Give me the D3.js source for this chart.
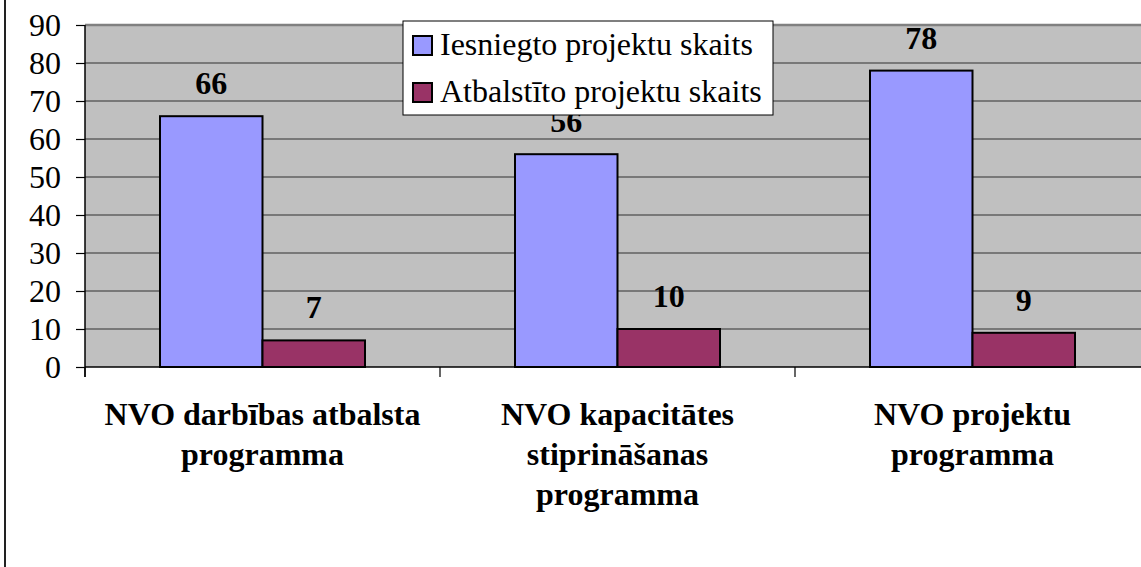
<!DOCTYPE html>
<html>
<head>
<meta charset="utf-8">
<script src="https://cdn.jsdelivr.net/npm/d3@7"></script>
<style>
  body { margin: 0; background: #fff; }
  #chart text { font-family: "Liberation Serif", Tinos, "Times New Roman", Times, serif !important; }
</style>
</head>
<body>
<svg id="chart" width="1141" height="567" font-family="Liberation Serif"></svg>
<script>
let categories = [
  ['NVO darbības atbalsta', 'programma'],
  ['NVO kapacitātes', 'stiprināšanas', 'programma'],
  ['NVO projektu', 'programma']
]
let seriesNames = ['Iesniegto projektu skaits', 'Atbalstīto projektu skaits']
let submitted = [66, 56, 78]
let supported = [7, 10, 9]
let yTicks = [0, 10, 20, 30, 40, 50, 60, 70, 80, 90]
let colors = ['#9999ff', '#993366']

let svg = d3.select('#chart')
let fontSize = 32

let plotLeft = 85, plotRight = 1150, plotTop = 25, plotBottom = 367

let catKeys = categories.map((c, i) => i)
let x = d3.scaleBand().domain(catKeys).range([plotLeft, plotRight])
let xInner = d3.scaleBand().domain([0, 1]).range([75, 280])
let y = d3.scaleLinear().domain([0, 90]).range([plotBottom, plotTop])

// outer frame edge on the left
svg.append('line')
  .attr('x1', 5).attr('x2', 5).attr('y1', 0).attr('y2', 567)
  .attr('stroke', '#222').attr('stroke-width', 2)

// plot background
svg.append('rect')
  .attr('x', plotLeft).attr('y', plotTop)
  .attr('width', plotRight - plotLeft).attr('height', plotBottom - plotTop)
  .attr('fill', '#c0c0c0')

// gridlines
svg.selectAll('.grid')
  .data(yTicks.filter(t => t > 0))
  .enter()
  .append('line')
  .attr('x1', plotLeft).attr('x2', plotRight)
  .attr('y1', d => y(d)).attr('y2', d => y(d))
  .attr('stroke', d => d == 90 ? '#808080' : '#606060')
  .attr('stroke-width', d => d == 90 ? 2.5 : 1.5)

// y axis
let yAxis = svg.append('g')
  .attr('transform', `translate(${plotLeft},0)`)
  .call(d3.axisLeft(y).tickValues(yTicks).tickSize(9).tickPadding(15))
yAxis.attr('font-family', null)
yAxis.select('.domain').attr('stroke', '#000').attr('stroke-width', 1.5)
  .attr('d', `M0,${plotTop}V${plotBottom + 10}`)
yAxis.selectAll('.tick line').attr('stroke', '#000').attr('stroke-width', 1.2)
yAxis.selectAll('.tick text')
  .attr('font-size', fontSize)
  .attr('dy', '0.34em')
  .attr('fill', '#000')

// bars
let data = []
catKeys.forEach(i => {
  data.push({ cat: i, s: 0, value: submitted[i] })
  data.push({ cat: i, s: 1, value: supported[i] })
})

svg.selectAll('.bar')
  .data(data)
  .enter()
  .append('rect')
  .attr('class', 'bar')
  .attr('x', d => x(d.cat) + xInner(d.s))
  .attr('y', d => y(d.value))
  .attr('width', xInner.bandwidth())
  .attr('height', d => y(0) - y(d.value))
  .attr('fill', d => colors[d.s])
  .attr('stroke', '#000')
  .attr('stroke-width', 2)

// value labels
svg.selectAll('.val')
  .data(data)
  .enter()
  .append('text')
  .attr('class', 'val')
  .attr('x', d => x(d.cat) + xInner(d.s) + xInner.bandwidth() / 2)
  .attr('y', d => y(d.value) - 22)
  .attr('text-anchor', 'middle')
  .attr('font-size', fontSize)
  .attr('font-weight', 'bold')
  .text(d => d.value)

// x axis
let xAxis = svg.append('g')
  .attr('transform', `translate(0,${plotBottom})`)
  .call(d3.axisBottom(x).tickSize(0).tickFormat(''))
xAxis.select('.domain').attr('stroke', '#000').attr('stroke-width', 1.5)
  .attr('d', `M${plotLeft},0H${plotRight}`)
svg.selectAll('.catTick')
  .data(catKeys.concat([3]))
  .enter()
  .append('line')
  .attr('x1', d => plotLeft + d * x.bandwidth())
  .attr('x2', d => plotLeft + d * x.bandwidth())
  .attr('y1', plotBottom).attr('y2', plotBottom + 10)
  .attr('stroke', '#000').attr('stroke-width', 1.2)

// category labels
let catLabel = svg.selectAll('.cat')
  .data(categories)
  .enter()
  .append('text')
  .attr('class', 'cat')
  .attr('text-anchor', 'middle')
  .attr('font-size', fontSize)
  .attr('font-weight', 'bold')
catLabel.selectAll('tspan')
  .data((c, i) => c.map(line => ({ line: line, i: i })))
  .enter()
  .append('tspan')
  .attr('x', d => x(d.i) + x.bandwidth() / 2)
  .attr('y', (d, j) => 425 + j * 40)
  .text(d => d.line)

// legend
let legend = svg.append('g')
legend.append('rect')
  .attr('x', 403).attr('y', 21)
  .attr('width', 370).attr('height', 94)
  .attr('fill', '#fff')
  .attr('stroke', '#000').attr('stroke-width', 1)

let item = legend.selectAll('.item')
  .data(seriesNames)
  .enter()
  .append('g')
  .attr('transform', (d, i) => `translate(0,${i * 47})`)
item.append('rect')
  .attr('x', 413).attr('y', 36)
  .attr('width', 19).attr('height', 19)
  .attr('fill', (d, i) => colors[i])
  .attr('stroke', '#000').attr('stroke-width', 2)
item.append('text')
  .attr('x', 440).attr('y', 55)
  .attr('font-size', fontSize)
  .text(d => d)

svg.selectAll('text').style('font-family', '"Liberation Serif", serif')
</script>
</body>
</html>
